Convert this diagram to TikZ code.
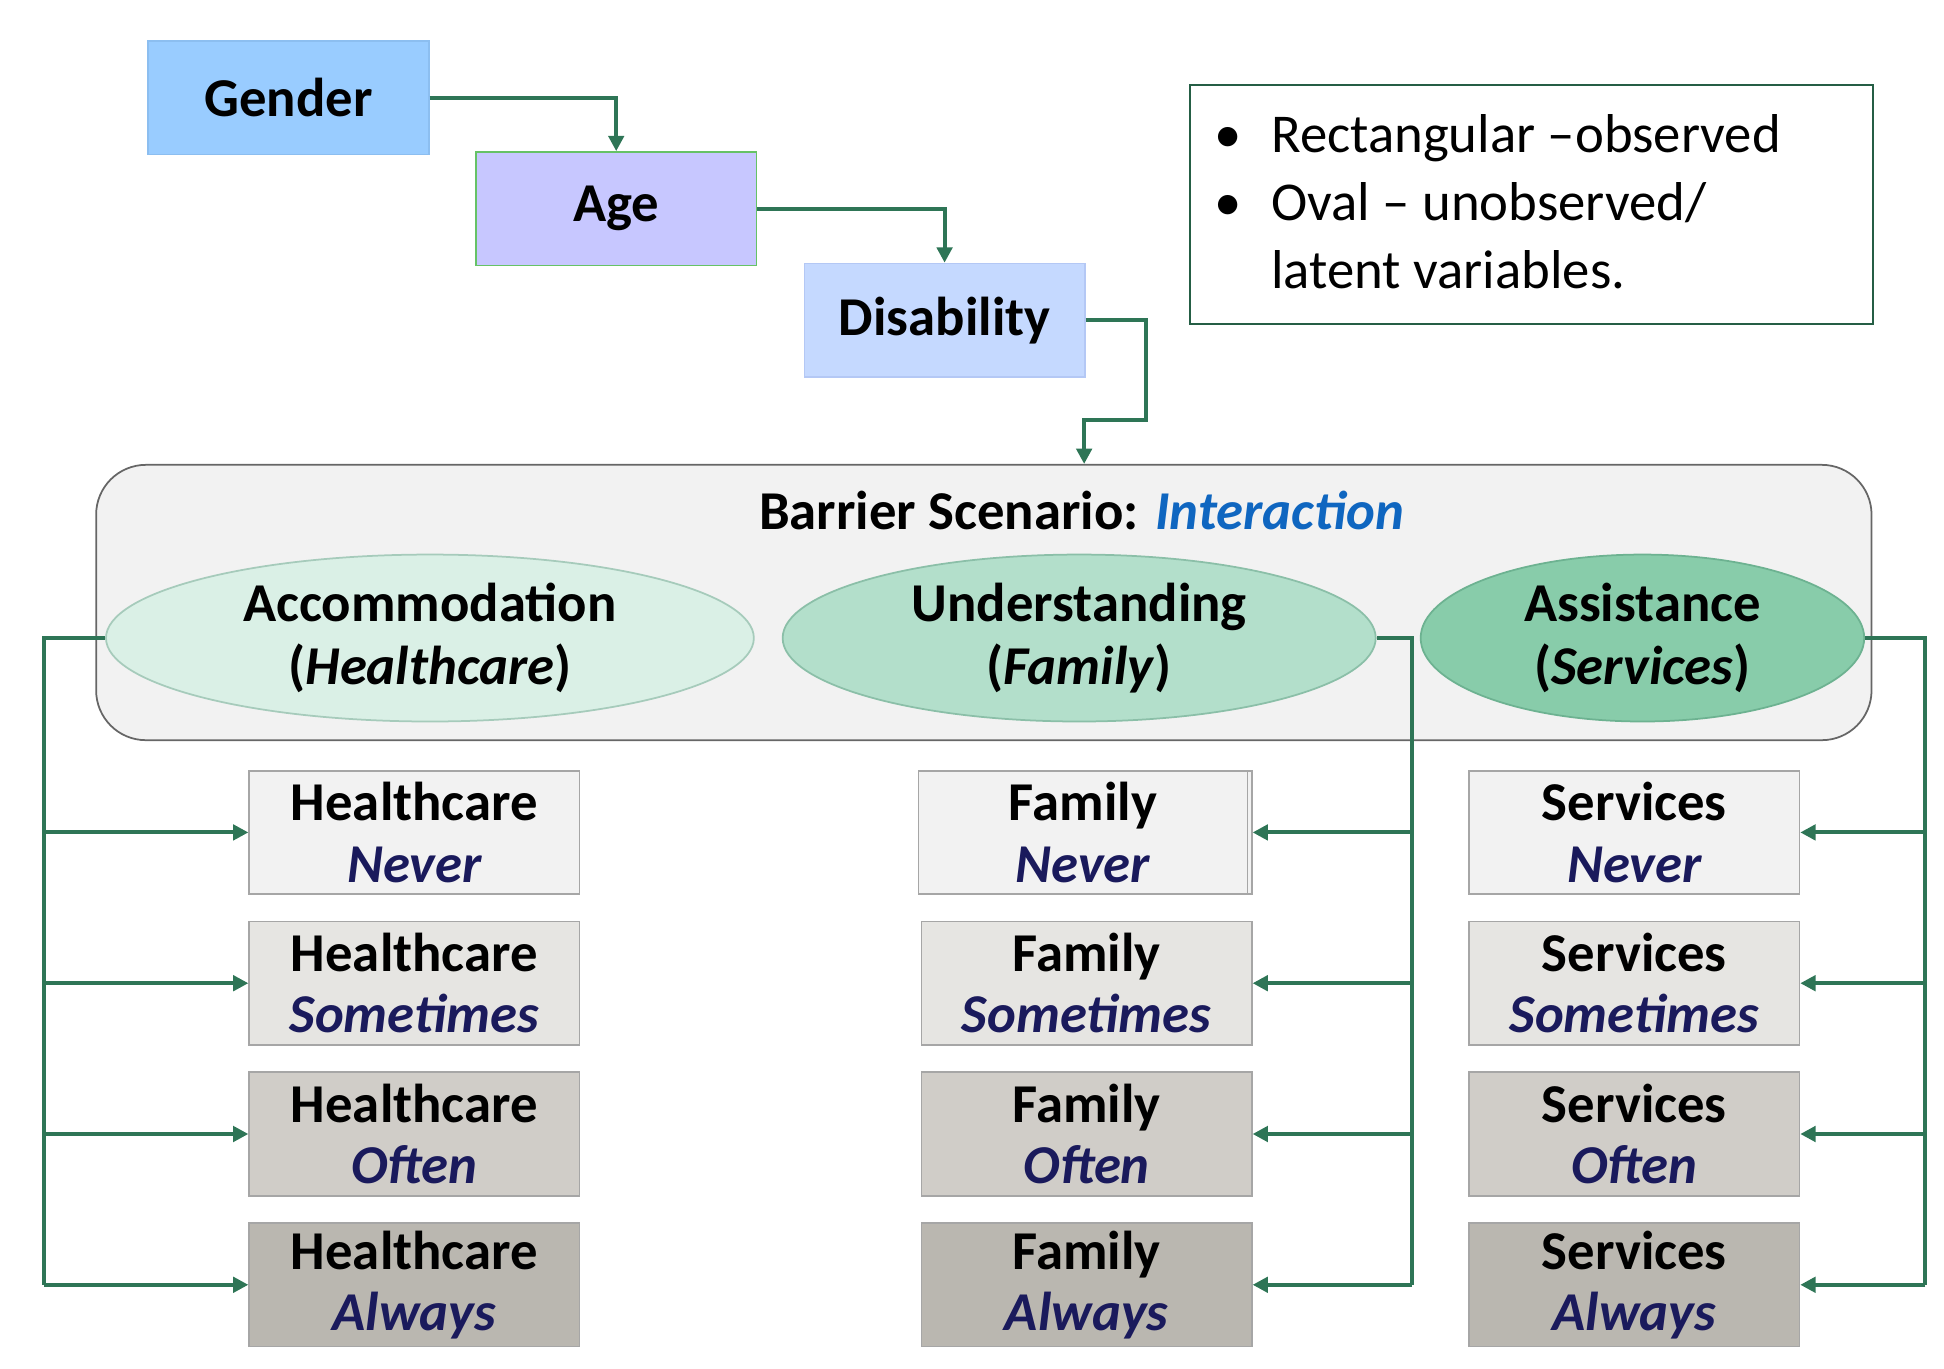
\documentclass[tikz,border=0pt]{standalone}
\usepackage{fontspec}
\setmainfont{Carlito}
\usetikzlibrary{arrows.meta,shapes.geometric}
\definecolor{gl}{HTML}{2E7556}
\definecolor{navy}{HTML}{1A1A5C}
\definecolor{iblue}{HTML}{0F66C0}
\begin{document}
\begin{tikzpicture}[x=0.02cm,y=-0.02cm,
 conn/.style={draw=gl,line width=1.8pt,-{Triangle[length=7pt,width=7pt]}},
 top/.style={draw=#1,line width=0.8pt,minimum width=4.5cm,minimum height=1.82cm,font=\fontsize{25}{28}\selectfont\bfseries},
 ell/.style={ellipse,draw=#1!70!gl,line width=0.8pt,fill=#1,inner sep=0pt,font=\fontsize{25}{29}\selectfont\bfseries,align=center},
 cb/.style={draw=gray!70,line width=0.8pt,fill=#1,minimum width=5.3cm,minimum height=1.98cm,inner sep=0pt,align=center,font=\fontsize{25}{29}\selectfont\bfseries},
 sec/.style={text=navy,font=\fontsize{25}{29}\selectfont\bfseries\itshape}]
\useasboundingbox (0,0) rectangle (1560,1098);
\definecolor{r1}{HTML}{F2F2F2}\definecolor{r2}{HTML}{E6E5E2}\definecolor{r3}{HTML}{D0CDC8}\definecolor{r4}{HTML}{BAB7B0}
\node[top=blue!30!cyan!40,fill={rgb,255:red,153;green,204;blue,255},draw={rgb,255:red,140;green,190;blue,240}] (g) at (231.5,78.5) {Gender};
\node[top=green!60!black!60,fill={rgb,255:red,199;green,199;blue,255}] (a) at (494.5,167.5) {Age};
\node[top=blue!20,fill={rgb,255:red,197;green,217;blue,255},draw={rgb,255:red,180;green,200;blue,245}] (d) at (758,257) {Disability};
\node[draw=gl!80!black,line width=1pt,minimum width=10.96cm,minimum height=3.84cm] (leg) at (1229,164) {};
\node[anchor=west,align=left,font=\fontsize{25}{29}\selectfont] (legt) at (968,162) {\textbullet\hspace{0.55em}Rectangular –observed\\[2pt]\textbullet\hspace{0.55em}Oval – unobserved/\\[2pt]\hphantom{\textbullet\hspace{0.55em}}latent variables.};
\node[draw=gray!80!black,line width=0.8pt,fill=r1,rounded corners=0.8cm,minimum width=28.5cm,minimum height=4.42cm] (bs) at (789.5,483.5) {};
\node[font=\fontsize{25}{29}\selectfont\bfseries] (bt) at (868,410) {Barrier Scenario: \textcolor{iblue}{\itshape Interaction}};
\definecolor{e1}{HTML}{DAF0E6}\definecolor{e2}{HTML}{B3DFCB}\definecolor{e3}{HTML}{88CCAA}
\node[ell=e1,minimum width=10.4cm,minimum height=2.68cm] (e1n) at (345,512) {Accommodation\\(\textit{Healthcare})};
\node[ell=e2,minimum width=9.52cm,minimum height=2.68cm] (e2n) at (866,512) {Understanding\\(\textit{Family})};
\node[ell=e3,minimum width=7.12cm,minimum height=2.68cm] (e3n) at (1318,512) {Assistance\\(\textit{Services})};
\draw[conn] (g.east) -| (a.north);
\draw[conn] (a.east) -| (d.north);
\coordinate (d1) at (920,257); \coordinate (d2) at (920,337); \coordinate (d3) at (870,337);
\draw[conn] (d.east) -- (d1) -- (d2) -- (d3) -- (bs.north -| d3);
\foreach \r/\y/\w in {1/668/Never,2/789/Sometimes,3/910/Often,4/1031/Always}{
 \node[cb=r\r] (h\r) at (332.5,\y) {Healthcare\\[-1pt]{\usefont{TU}{Carlito(0)}{b}{it}\color{navy}\w}};
 \node[cb=r\r] (f\r) at (872,\y) {Family\\[-1pt]{\color{navy}\itshape\w}};
 \node[cb=r\r] (s\r) at (1311.5,\y) {Services\\[-1pt]{\color{navy}\itshape\w}};
}
\node[cb=r1,minimum width=5.28cm] at (869,668) {Family\\[-1pt]{\color{navy}\itshape Never}};
\coordinate (L) at (35,512); \coordinate (M) at (1133,512); \coordinate (R) at (1545,512);
\draw[draw=gl,line width=1.8pt] (e1n.west) -- (L) -- (35,1031);
\draw[draw=gl,line width=1.8pt] (e2n.east) -- (M) -- (1133,1031);
\draw[draw=gl,line width=1.8pt] (e3n.east) -- (R) -- (1545,1031);
\foreach \r in {1,2,3,4}{
 \draw[conn] (L |- h\r) -- (h\r.west);
 \draw[conn] (M |- f\r) -- (f\r.east);
 \draw[conn] (R |- s\r) -- (s\r.east);
}
\end{tikzpicture}
\end{document}
